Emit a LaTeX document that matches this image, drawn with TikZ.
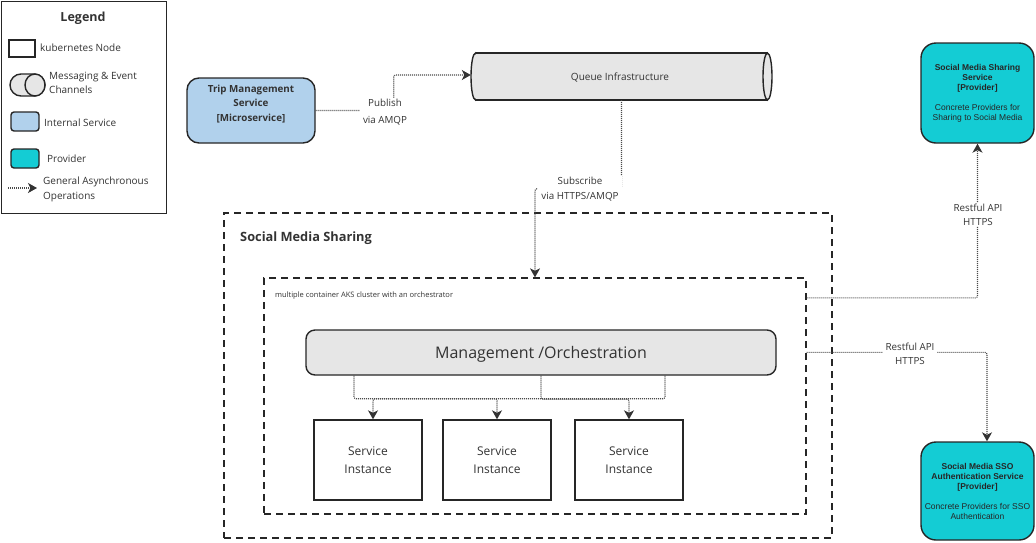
\documentclass[tikz,border=0pt]{standalone}
\usepackage{fontspec}
\setmainfont{Open Sans}
\newfontfamily\arialf{Liberation Sans}
\usetikzlibrary{arrows.meta,calc}
\definecolor{bord}{HTML}{262626}
\definecolor{txt}{HTML}{333333}
\definecolor{dotc}{HTML}{4A4A4A}
\definecolor{tipc}{HTML}{333333}
\definecolor{blue1}{HTML}{B1D1EC}
\definecolor{teal1}{HTML}{14CCD4}
\definecolor{gray1}{HTML}{E6E6E6}
\newcommand{\myfs}[2]{\fontsize{#1}{#2}\selectfont}
\begin{document}
\begin{tikzpicture}[x=1pt,y=-1pt,
  box/.style={draw=bord, line width=1.4pt, inner sep=0pt},
  dbox/.style={draw=bord, line width=1.3pt, dash pattern=on 7pt off 5pt, inner sep=0pt},
  async/.style={draw=dotc, line width=1.1pt, dash pattern=on 1pt off 1pt, rounded corners=2pt, -{Stealth[length=9pt,width=10pt,inset=2.5pt,color=tipc]}},
  lbl/.style={fill=white, inner xsep=3pt, inner ysep=1pt, align=center, text=txt, font=\myfs{9.8}{14}},
  txtn/.style={text=txt, inner sep=0pt},
]
\useasboundingbox (0,0) rectangle (1036,542);

% ---------- legend ----------
\node[box, fill=white, anchor=north west, minimum width=165pt, minimum height=212pt] (legend) at (1,1) {};
\node[txtn, font=\myfs{12.5}{15}\bfseries] (legtitle) at (83,18.5) {Legend};
\node[box, fill=white, minimum width=26pt, minimum height=17pt] (lgk8s) at (22,48.5) {};
\node[txtn, anchor=west, font=\myfs{10}{14}] (lgk8st) at (40,48) {kubernetes Node};
\draw[box, fill=gray1, rounded corners=11pt] (10,74) rectangle (45,96);
\draw[box, fill=gray1] (35,85) ellipse [x radius=10, y radius=11];
\node[txtn, anchor=west, align=left, font=\myfs{10}{14}] (lgmsg) at (49,83) {Messaging \& Event\\Channels};
\node[box, fill=blue1, rounded corners=3pt, minimum width=28pt, minimum height=19pt] (lgblue) at (25,121.5) {};
\node[txtn, anchor=west, font=\myfs{10}{14}] (lgbluet) at (44,123) {Internal Service};
\node[box, fill=teal1, rounded corners=3pt, minimum width=28pt, minimum height=19pt] (lgteal) at (25,158.5) {};
\node[txtn, anchor=west, font=\myfs{10}{14}] (lgtealt) at (47,159) {Provider};
\coordinate (lga) at (8,188);
\coordinate (lgb) at (37,188);
\draw[async] (lga) -- (lgb);
\node[txtn, anchor=west, align=left, font=\myfs{10}{15}] (lgasync) at (43,189.5) {General Asynchronous\\Operations};

% ---------- trip management ----------
\node[box, fill=blue1, rounded corners=12pt, minimum width=128pt, minimum height=65pt] (trip) at (251,110.5) {};
\node[txtn, align=center, font=\myfs{9.8}{14.5}\bfseries] (triptext) at (251,104) {Trip Management\\Service\\{[Microservice]}};

% ---------- queue cylinder ----------
\draw[box, fill=gray1] (475.5,76.5) ellipse [x radius=4.5, y radius=23.5];
\fill[gray1] (475.5,53) rectangle (767.5,100);
\draw[box] (475.5,53) -- (767.5,53) (475.5,100) -- (767.5,100);
\draw[box, fill=gray1] (767.5,76.5) ellipse [x radius=4.5, y radius=23.5];
\node[inner sep=0pt, minimum width=301pt, minimum height=47pt, text=txt, font=\myfs{10}{12}] (queue) at (621.5,76.5) {};
\node[txtn, font=\myfs{10}{12}] (queuet) at (620,77.5) {Queue Infrastructure};

% ---------- providers ----------
\node[box, fill=teal1, rounded corners=15pt, minimum width=113pt, minimum height=100pt, align=center, text=black!85, font=\arialf\myfs{8.5}{10}] (prov1) at (977.5,93) {\textbf{Social Media Sharing}\\\textbf{Service}\\\textbf{[Provider]}\\[10pt]Concrete Providers for\\Sharing to Social Media};
\node[box, fill=teal1, rounded corners=15pt, minimum width=113pt, minimum height=98pt, align=center, text=black!85, font=\arialf\myfs{8.5}{10}] (prov2) at (977.5,491) {\textbf{Social Media SSO}\\\textbf{Authentication Service}\\\textbf{[Provider]}\\[10pt]Concrete Providers for SSO\\Authentication};

% ---------- social media sharing ----------
\node[dbox, minimum width=608pt, minimum height=325pt] (outer) at (528,375.5) {};
\node[dbox, minimum width=542pt, minimum height=236pt] (inner) at (535,396) {};
\node[txtn, anchor=west, font=\myfs{12.8}{15}\bfseries] (outert) at (240,238) {Social Media Sharing};
\node[txtn, anchor=west, font=\myfs{7.5}{9}] (innert) at (275,295.5) {multiple container AKS cluster with an orchestrator};

\node[box, fill=gray1, rounded corners=9pt, minimum width=470pt, minimum height=45pt] (mgmt) at (541,352.5) {};
\node[txtn, font=\myfs{16}{19}] (mgmtt) at (541,354) {Management /Orchestration};
\foreach \n/\x in {1/368,2/497,3/629}
  \node[box, fill=white, minimum width=108pt, minimum height=80pt, align=center, text=txt, font=\myfs{12}{17.5}] (inst\n) at (\x,460) {Service\\Instance};

% ---------- connectors ----------
\draw[async] (trip.east) -- ++(78,0) |- ($(queue.west)+(0,-1.5)$);
\draw[async] (queue.south) -- ++(0,88.5) -| (inner.north);
\draw[async] ($(inner.north east)+(0,20.5)$) -| (prov1.south);
\draw[async] ($(inner.north east)+(0,75)$) -| ($(prov2.north)+(9.5,0)$);
\draw[async] ($(mgmt.south)+(-187,0)$) -- ++(0,23) -| (inst2.north);
\draw[async] ($(mgmt.south)+(124,0)$) -- ++(0,23) -| ($(inst1.north)+(5,0)$);
\draw[async] (mgmt.south) -- ++(0,23.5) -| (inst3.north);

% ---------- connector labels ----------
\node[lbl, font=\myfs{9.8}{16.5}] (pubt) at (385,112) {Publish\\via AMQP};
\node[lbl, font=\myfs{9.8}{15}] (subt) at (580,189) {Subscribe\\via HTTPS/AMQP};
\node[lbl] (rest1) at (978,214.5) {Restful API\\HTTPS};
\node[lbl] (rest2) at (910,353.5) {Restful API\\HTTPS};
\end{tikzpicture}
\end{document}
